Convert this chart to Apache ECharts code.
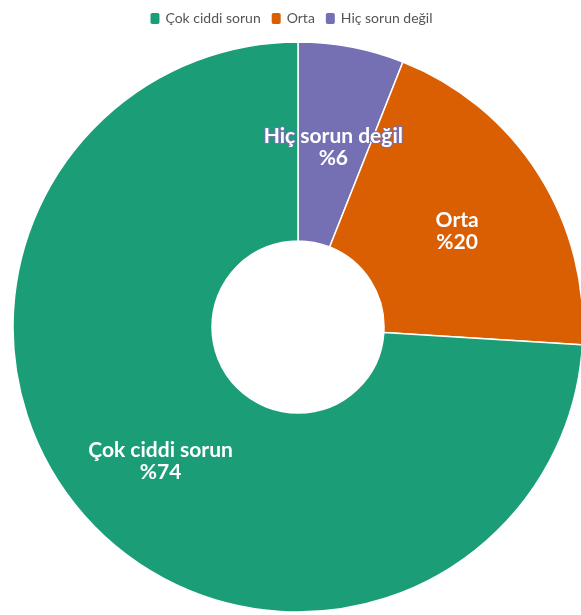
<!DOCTYPE html>
<html>
<head>
<meta charset="utf-8">
<script src="https://cdn.jsdelivr.net/npm/echarts@6/dist/echarts.min.js"></script>
<style>
  html, body { margin: 0; padding: 0; background: #fff; }
  #chart { width: 581px; height: 615px; }
</style>
</head>
<body>
<div id="chart"></div>
<script>
  // dilimler saat yönünde, tepeden başlayarak
  const categories = ['Hiç sorun değil', 'Orta', 'Çok ciddi sorun'];
  const values = [6, 20, 74];
  const colors = ['#7570b3', '#d95f02', '#1b9e77'];
  const legendOrder = ['Çok ciddi sorun', 'Orta', 'Hiç sorun değil'];

  const chart = echarts.init(document.getElementById('chart'));
  const data = categories.map((name, i) => ({
    name: name,
    value: values[i],
    itemStyle: { color: colors[i] },
    label: { textBorderColor: colors[i] }
  }));

  chart.setOption({
    animation: false,
    legend: {
      data: legendOrder,
      top: 6,
      left: 'center',
      itemWidth: 11,
      itemHeight: 13,
      itemGap: 9,
      icon: 'roundRect',
      textStyle: { fontFamily: 'Lato', fontSize: 14, color: '#555' }
    },
    series: [{
      type: 'pie',
      center: [298, 327],
      radius: [86, 285],
      startAngle: 90,
      clockwise: true,
      data: data,
      itemStyle: { borderColor: '#fff', borderWidth: 1.5 },
      label: {
        position: 'inner',
        formatter: p => p.name + '\n%' + p.value,
        color: '#fff',
        fontFamily: 'Lato',
        fontWeight: 'bold',
        fontSize: 21,
        lineHeight: 22,
        offset: [0, 5],
        textBorderWidth: 2
      },
      labelLine: { show: false }
    }]
  });
</script>
</body>
</html>
